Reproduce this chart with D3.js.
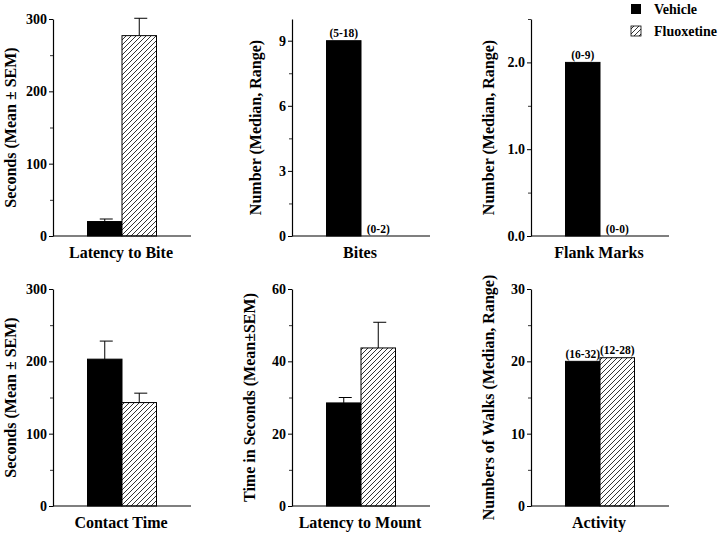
<!DOCTYPE html>
<html>
<head>
<meta charset="utf-8">
<script src="https://cdn.jsdelivr.net/npm/d3@7"></script>
</head>
<body style="margin:0;background:#fff">
<svg id="chart" width="720" height="536" style="display:block"></svg>
<script>
// ---- data ----
const groups = ["Vehicle", "Fluoxetine"];
const panelNames = ["Latency to Bite", "Bites", "Flank Marks", "Contact Time", "Latency to Mount", "Activity"];
const yTitles = [
  "Seconds (Mean \u00B1 SEM)",
  "Number (Median, Range)",
  "Number (Median, Range)",
  "Seconds (Mean \u00B1 SEM)",
  "Time in Seconds (Mean\u00B1SEM)",
  "Numbers of Walks (Median, Range)"
];
const vehicleValues    = [20, 9, 2, 203, 28.5, 20];
const fluoxetineValues = [277, 0, 0, 143, 43.7, 20.5];
const vehicleErrors    = [3.5, null, null, 25, 1.5, null];
const fluoxetineErrors = [24, null, null, 13, 7.1, null];
const vehicleRanges    = [null, "(5-18)", "(0-9)", null, null, "(16-32)"];
const fluoxetineRanges = [null, "(0-2)", "(0-0)", null, null, "(12-28)"];
const yMaxes = [300, 10, 2.5, 300, 60, 30];
const majorTicks = [[0, 100, 200, 300], [0, 3, 6, 9], [0, 1, 2], [0, 100, 200, 300], [0, 20, 40, 60], [0, 10, 20, 30]];
const minorTicks = [[50, 150, 250], [1.5, 4.5, 7.5], [0.5, 1.5, 2.5], [50, 150, 250], [10, 30, 50], [5, 15, 25]];
const tickFormats = ["d", "d", ".1f", "d", "d", "d"];

// ---- layout ----
const colX = [53, 292, 531];
const rowY0 = [236, 506];
const plotH = 217;
const plotW = 138;
const FONT = "Liberation Serif";

function styleText(sel, size) {
  return sel.attr("font-family", FONT).attr("font-weight", "bold").attr("font-size", size)
    .attr("fill", "#000")
    .style("font-family", FONT).style("font-weight", "bold").style("font-size", size + "px");
}

const svg = d3.select("#chart");

const defs = svg.append("defs");
const pat = defs.append("pattern")
  .attr("id", "hatch")
  .attr("patternUnits", "userSpaceOnUse")
  .attr("width", 5).attr("height", 5);
pat.append("rect").attr("width", 5).attr("height", 5).attr("fill", "#fff");
pat.append("path")
  .attr("d", "M-1,1 L1,-1 M0,5 L5,0 M4,6 L6,4")
  .attr("stroke", "#000").attr("stroke-width", 0.8);

panelNames.forEach((name, i) => {
  const ax = colX[i % 3];
  const y0 = rowY0[Math.floor(i / 3)];
  const g = svg.append("g").attr("transform", `translate(${ax},${y0 - plotH})`);

  const y = d3.scaleLinear().domain([0, yMaxes[i]]).range([plotH, 0]);
  const x = d3.scaleBand().domain(groups).range([0, plotW]).paddingInner(0).paddingOuter(1);

  const vals = [vehicleValues[i], fluoxetineValues[i]];
  const errs = [vehicleErrors[i], fluoxetineErrors[i]];
  const ranges = [vehicleRanges[i], fluoxetineRanges[i]];

  groups.forEach((grp, k) => {
    if (vals[k] > 0) {
      g.append("rect")
        .attr("x", x(grp))
        .attr("y", y(vals[k]))
        .attr("width", x.bandwidth())
        .attr("height", plotH - y(vals[k]))
        .attr("fill", k === 0 ? "#000" : "url(#hatch)")
        .attr("stroke", "#000")
        .attr("stroke-width", 1);
    }
    if (errs[k] != null) {
      const cx = x(grp) + x.bandwidth() / 2;
      const yt = y(vals[k] + errs[k]);
      g.append("line").attr("x1", cx).attr("x2", cx).attr("y1", y(vals[k])).attr("y2", yt)
        .attr("stroke", "#000").attr("stroke-width", 1);
      g.append("line").attr("x1", cx - 5).attr("x2", cx + 8).attr("y1", yt).attr("y2", yt)
        .attr("stroke", "#000").attr("stroke-width", 1);
    }
    if (ranges[k]) {
      styleText(g.append("text")
        .attr("x", x(grp) + x.bandwidth() / 2)
        .attr("y", y(vals[k]) - 3.5)
        .attr("text-anchor", "middle"), 11.5)
        .text(ranges[k]);
    }
  });

  const yAxis = d3.axisLeft(y).tickValues(majorTicks[i]).tickSize(4).tickSizeOuter(0)
    .tickFormat(d3.format(tickFormats[i])).tickPadding(2);
  const ya = g.append("g").call(yAxis);
  styleText(ya.selectAll("text"), 14);
  ya.select(".domain").attr("stroke", "#000").attr("stroke-width", 1.2);
  ya.selectAll(".tick line").attr("stroke", "#000").attr("stroke-width", 1);

  const yMinor = d3.axisLeft(y).tickValues(minorTicks[i]).tickSize(3).tickSizeOuter(0).tickFormat("");
  const ym = g.append("g").call(yMinor);
  ym.select(".domain").remove();
  ym.selectAll(".tick line").attr("stroke", "#000").attr("stroke-width", 0.8);

  g.append("line").attr("x1", 0).attr("x2", plotW).attr("y1", plotH).attr("y2", plotH)
    .attr("stroke", "#000").attr("stroke-width", 1.2);

  styleText(g.append("text")
    .attr("x", plotW / 2 - 1)
    .attr("y", plotH + 22)
    .attr("text-anchor", "middle"), 16)
    .text(name);

  const tx = (i === 1) ? -31 : -37;
  styleText(g.append("text")
    .attr("transform", `translate(${tx},${plotH / 2}) rotate(-90)`)
    .attr("text-anchor", "middle"), 16)
    .text(yTitles[i]);
});

const legend = svg.append("g");
groups.forEach((grp, k) => {
  legend.append("rect")
    .attr("x", 631).attr("y", 4 + k * 22)
    .attr("width", 10).attr("height", 10)
    .attr("fill", k === 0 ? "#000" : "url(#hatch)")
    .attr("stroke", "#000").attr("stroke-width", k === 0 ? 0 : 0.8);
  styleText(legend.append("text")
    .attr("x", 654).attr("y", 13.5 + k * 22), 14)
    .text(grp);
});
</script>
</body>
</html>
